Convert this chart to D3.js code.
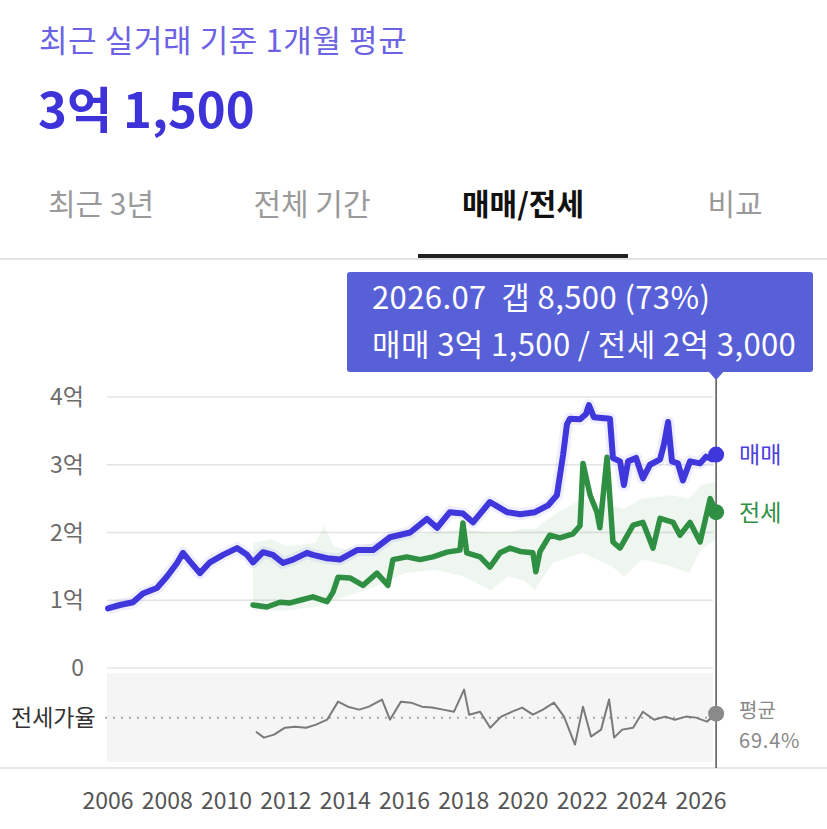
<!DOCTYPE html>
<html><head><meta charset="utf-8">
<script src="https://cdn.jsdelivr.net/npm/d3@7"></script>
<style>
body{margin:0;background:#fff;}
svg{font-family:"Noto Sans CJK KR","Noto Sans",sans-serif;display:block}
</style>
</head><body>
<svg id="c" width="827" height="829"></svg>
<script>
// ---- data (억 원) ----
const saleYears = [2006.0,2006.4,2006.84,2007.18,2007.65,2007.99,2008.33,2008.53,2008.77,2009.1,2009.44,2009.88,2010.35,2010.69,2010.89,2011.23,2011.56,2011.9,2012.24,2012.71,2012.91,2013.39,2013.82,2014.4,2014.94,2015.51,2016.19,2016.76,2017.1,2017.53,2017.97,2018.31,2018.88,2019.46,2019.9,2020.4,2020.84,2021.14,2021.35,2021.48,2021.58,2021.92,2022.12,2022.22,2022.39,2022.93,2023.03,2023.27,2023.4,2023.54,2023.81,2024.04,2024.28,2024.62,2024.75,2024.89,2025.02,2025.22,2025.39,2025.63,2025.97,2026.17,2026.37,2026.51];
const saleValues = [0.88,0.93,0.97,1.10,1.18,1.35,1.55,1.70,1.57,1.40,1.56,1.67,1.77,1.67,1.56,1.71,1.67,1.55,1.60,1.70,1.67,1.62,1.60,1.74,1.74,1.93,2.00,2.20,2.07,2.30,2.28,2.15,2.45,2.30,2.27,2.30,2.40,2.55,3.15,3.60,3.68,3.67,3.75,3.88,3.70,3.68,3.10,3.05,2.70,3.05,3.10,2.80,3.00,3.08,3.30,3.63,3.05,3.02,2.77,3.05,3.02,3.12,3.08,3.15];

const jeonseYears = [2010.89,2011.36,2011.8,2012.14,2012.48,2012.91,2013.39,2013.59,2013.76,2014.16,2014.6,2015.07,2015.44,2015.61,2016.08,2016.52,2016.96,2017.43,2017.87,2017.97,2018.1,2018.55,2018.88,2019.22,2019.56,2019.9,2020.33,2020.43,2020.57,2020.9,2021.24,2021.68,2021.92,2022.02,2022.26,2022.49,2022.59,2022.83,2023.03,2023.27,2023.71,2024.04,2024.38,2024.62,2025.06,2025.29,2025.63,2025.97,2026.31,2026.51];
const jeonseValues = [0.93,0.90,0.97,0.96,1.00,1.05,0.98,1.12,1.34,1.33,1.22,1.40,1.22,1.60,1.64,1.60,1.64,1.71,1.74,2.14,1.70,1.64,1.49,1.70,1.77,1.72,1.70,1.42,1.72,1.96,1.92,1.98,2.10,3.02,2.55,2.30,2.07,3.11,1.86,1.77,2.11,2.15,1.77,2.21,2.15,1.96,2.15,1.86,2.50,2.30];

const bandYears = [2010.89,2011.5,2012,2012.5,2013,2013.3,2013.6,2014,2015,2016,2017,2018,2018.9,2019.5,2020,2020.4,2021,2022,2023,2023.4,2024,2025,2025.6,2026,2026.51];
const jeonseLow  = [0.85,0.85,0.85,0.88,0.90,0.95,1.0,1.05,1.20,1.40,1.45,1.35,1.15,1.35,1.30,1.15,1.55,1.70,1.50,1.35,1.60,1.50,1.40,1.75,1.90];
const jeonseHigh = [1.85,1.90,1.80,1.82,1.85,2.10,1.80,1.75,1.85,1.95,2.00,2.05,2.00,2.00,2.05,2.05,2.25,2.50,2.40,2.35,2.50,2.55,2.50,2.70,2.75];

const ratioYears = [2010.99,2011.26,2011.6,2011.97,2012.31,2012.68,2013.02,2013.39,2013.76,2014.09,2014.47,2014.8,2015.24,2015.51,2015.88,2016.22,2016.59,2016.93,2017.3,2017.67,2018.01,2018.18,2018.55,2018.89,2019.26,2019.63,2019.97,2020.33,2020.67,2021.04,2021.38,2021.75,2022.02,2022.29,2022.63,2022.9,2023.07,2023.34,2023.71,2024.04,2024.42,2024.79,2025.12,2025.49,2025.83,2026.2,2026.51];
const ratioValues = [58.5,53.9,56.2,61.6,62.4,61.6,64.0,67.8,81.8,77.9,75.6,77.9,83.4,67.8,81.8,81.0,77.9,77.2,75.6,74.0,91.1,71.7,74.0,61.6,70.2,74.0,77.2,71.7,75.6,81.0,70.2,48.5,77.9,54.7,60.1,83.4,53.9,60.1,61.6,74.0,67.8,70.2,67.8,70.2,69.4,66.3,72.5];
const ratioMean = 69.4;

const yTicks = [0,1,2,3,4];
const yTickLabels = ["0","1억","2억","3억","4억"];
const xTicks = [2006,2008,2010,2012,2014,2016,2018,2020,2022,2024,2026];
const tabs = ["최근 3년","전체 기간","매매/전세","비교"];

const svg = d3.select("#c");
const x = d3.scaleLinear().domain([2006,2026]).range([108,701]);
const y = d3.scaleLinear().domain([0,4]).range([668,397]);
const yr = d3.scaleLinear().domain([35,104]).range([762,673]);
const xEnd = x(saleYears[saleYears.length-1]);

const BLUE="#3f36dc", GREEN="#2f8f43", GRAY="#7a7a7a";

// header
svg.append("text").attr("x",39).attr("y",52).attr("font-size",31).attr("letter-spacing",0.6).attr("fill","#6c62e4").text("최근 실거래 기준 1개월 평균");
svg.append("text").attr("x",38).attr("y",128).attr("font-size",49).attr("font-weight",700).attr("fill","#3d33d8").text("3억 1,500");

// tabs
const tabX = [101,312,523,735];
tabs.forEach((t,i)=>{
  svg.append("text").attr("x",tabX[i]).attr("y",215).attr("text-anchor","middle")
    .attr("font-size",30).attr("font-weight",i===2?700:400)
    .attr("fill",i===2?"#111":"#9a9a9a").text(t);
});
svg.append("rect").attr("x",0).attr("y",258).attr("width",827).attr("height",2).attr("fill","#e2e2e2");
svg.append("rect").attr("x",418).attr("y",254).attr("width",210).attr("height",4).attr("fill","#222");

// grid + y labels
const gGrid = svg.append("g");
yTicks.forEach((t,i)=>{
  gGrid.append("line").attr("x1",107).attr("x2",713).attr("y1",y(t)).attr("y2",y(t))
    .attr("stroke","#e4e4e4").attr("stroke-width",1.5);
  gGrid.append("text").attr("x",84).attr("y",y(t)+8).attr("text-anchor","end")
    .attr("font-size",23).attr("fill","#6b6b6b").text(yTickLabels[i]);
});

// ratio panel
svg.append("rect").attr("x",107).attr("y",673).attr("width",606).attr("height",89).attr("fill","#f5f5f5");
svg.append("line").attr("x1",105).attr("x2",712).attr("y1",yr(ratioMean)).attr("y2",yr(ratioMean))
  .attr("stroke","#aaa").attr("stroke-width",2).attr("stroke-dasharray","2,6");
svg.append("text").attr("x",11).attr("y",726).attr("font-size",23).attr("fill","#333").text("전세가율");
svg.append("rect").attr("x",0).attr("y",767).attr("width",827).attr("height",2).attr("fill","#e6e6e6");

// jeonse band
const band = d3.area().x((d,i)=>x(bandYears[i])).y0((d,i)=>y(jeonseLow[i])).y1((d,i)=>y(jeonseHigh[i])).curve(d3.curveLinear);
svg.append("path").datum(bandYears).attr("d",band).attr("fill",GREEN).attr("opacity",0.08);

// lines
const lineSale = d3.line().x((d,i)=>x(saleYears[i])).y(d=>y(d));
const lineJ = d3.line().x((d,i)=>x(jeonseYears[i])).y(d=>y(d));
const lineR = d3.line().x((d,i)=>x(ratioYears[i])).y(d=>yr(d));

svg.append("path").datum(saleValues).attr("d",lineSale).attr("fill","none").attr("stroke","#8f8af0")
  .attr("stroke-width",12).attr("opacity",0.15).attr("stroke-linejoin","round");
svg.append("path").datum(jeonseValues).attr("d",lineJ).attr("fill","none").attr("stroke",GREEN)
  .attr("stroke-width",5.5).attr("stroke-linejoin","round").attr("stroke-linecap","round");
svg.append("path").datum(saleValues).attr("d",lineSale).attr("fill","none").attr("stroke",BLUE)
  .attr("stroke-width",6).attr("stroke-linejoin","round").attr("stroke-linecap","round");
svg.append("path").datum(ratioValues).attr("d",lineR).attr("fill","none").attr("stroke",GRAY)
  .attr("stroke-width",2).attr("stroke-linejoin","round");

// cursor line
svg.append("line").attr("x1",xEnd).attr("x2",xEnd).attr("y1",376).attr("y2",768).attr("stroke","#555").attr("stroke-width",1.5);

// end dots
svg.append("circle").attr("cx",xEnd).attr("cy",y(saleValues[saleValues.length-1])).attr("r",8).attr("fill",BLUE);
svg.append("circle").attr("cx",xEnd).attr("cy",y(jeonseValues[jeonseValues.length-1])).attr("r",8).attr("fill",GREEN);
svg.append("circle").attr("cx",xEnd).attr("cy",yr(ratioValues[ratioValues.length-1])).attr("r",8).attr("fill","#8a8a8a");

svg.append("text").attr("x",739).attr("y",y(saleValues[saleValues.length-1])+8).attr("font-size",23).attr("fill","#4a40e0").text("매매");
svg.append("text").attr("x",739).attr("y",y(jeonseValues[jeonseValues.length-1])+9).attr("font-size",23).attr("fill",GREEN).text("전세");
svg.append("text").attr("x",739).attr("y",718).attr("font-size",20).attr("fill","#888").text("평균");
svg.append("text").attr("x",739).attr("y",748).attr("font-size",20).attr("letter-spacing",0.8).attr("fill","#888").text(ratioMean.toFixed(1)+"%");

// x axis labels
xTicks.forEach(t=>{
  svg.append("text").attr("x",x(t)).attr("y",809).attr("text-anchor","middle")
    .attr("font-size",23).attr("fill","#555").text(t);
});

// tooltip
const tip = svg.append("g");
tip.append("rect").attr("x",347).attr("y",272).attr("width",466).attr("height",100).attr("rx",3).attr("fill","#5860d8");
tip.append("path").attr("d",`M${xEnd-8},371 L${xEnd},380 L${xEnd+8},371 Z`).attr("fill","#5860d8");
tip.append("text").attr("x",372).attr("y",309).attr("font-size",31).attr("letter-spacing",0.4).attr("fill","#fff").attr("xml:space","preserve")
  .text("2026.07  갭 8,500 (73%)");
tip.append("text").attr("x",372).attr("y",356).attr("font-size",31).attr("letter-spacing",0.4).attr("fill","#fff")
  .text("매매 3억 1,500 / 전세 2억 3,000");
</script>
</body></html>
